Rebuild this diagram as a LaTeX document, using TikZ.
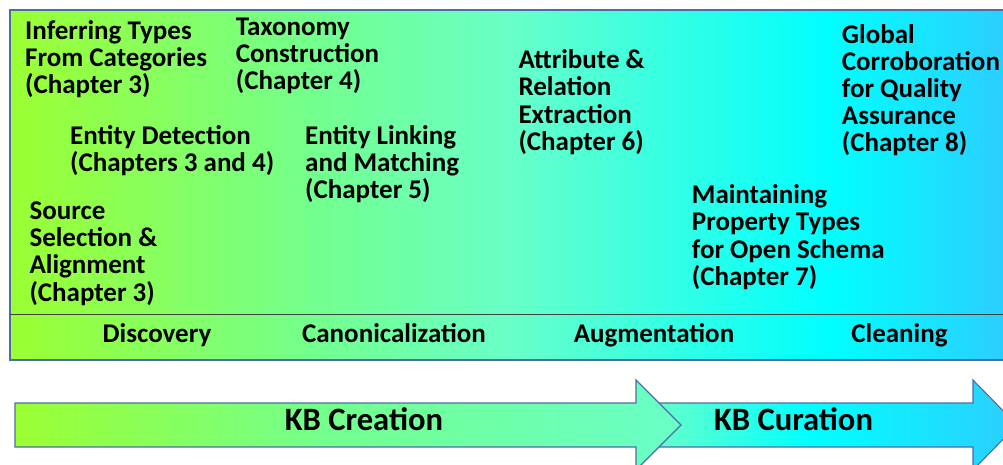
\documentclass[tikz,border=0pt]{standalone}
\usepackage{fontspec}
\setmainfont{Carlito}
\usetikzlibrary{positioning}

\definecolor{kbLime}{RGB}{155,255,50}
\definecolor{kbMint}{RGB}{115,255,140}
\definecolor{kbAqua}{RGB}{105,255,200}
\definecolor{kbCyan}{RGB}{0,255,255}
\definecolor{kbSky}{RGB}{45,205,255}
\definecolor{kbEdge}{RGB}{75,110,165}

\pgfdeclarehorizontalshading{panelshade}{100bp}{color(0bp)=(kbLime); color(25bp)=(kbLime);
  color(40bp)=(kbMint); color(50bp)=(kbAqua); color(66bp)=(kbCyan); color(75bp)=(kbSky); color(100bp)=(kbSky)}
\pgfdeclarehorizontalshading{creationshade}{100bp}{color(0bp)=(kbLime); color(25bp)=(kbLime);
  color(48bp)=(kbMint); color(75bp)=(kbAqua); color(100bp)=(kbAqua)}
\pgfdeclarehorizontalshading{curationshade}{100bp}{color(0bp)=(kbAqua); color(25bp)=(kbAqua);
  color(47bp)=(kbCyan); color(75bp)=(kbSky); color(100bp)=(kbSky)}

\begin{document}
\begin{tikzpicture}[x=1pt, y=-1pt,
  topic/.style={anchor=north west, inner sep=0, align=left,
    font=\fontsize{27}{27.2}\selectfont\bfseries, execute at begin node=\rule{0pt}{21pt}},
  stage/.style={anchor=base, inner sep=0, font=\fontsize{27}{29}\selectfont\bfseries},
  phase/.style={anchor=base, inner sep=0, font=\fontsize{32.6}{35}\selectfont\bfseries}]
  \useasboundingbox (0,0) rectangle (1003,464);

  % Panel with the tasks
  \draw[kbEdge, line width=1.1pt, shading=panelshade] (10,10) rectangle (1008,360);
  \draw[black!75, line width=0.9pt] (10,314) coordinate (divL) -- (1008,314) coordinate (divR);

  % Task labels
  \node[topic] (infer) at (25,20) {Inferring Types\\From Categories\\(Chapter 3)};
  \node[topic] (taxo) at (235.7,17.5) {Taxonomy\\Construction\\(Chapter 4)};
  \node[topic] (detect) at (70,125) {Entity Detection\\(Chapters 3 and 4)};
  \node[topic] (link) at (305,125) {Entity Linking\\and Matching\\(Chapter 5)};
  \node[topic] (source) at (29.3,201.5) {Source\\Selection \&\\Alignment\\(Chapter 3)};
  \node[topic] (attr) at (518.3,49.5) {Attribute \&\\Relation\\Extraction\\(Chapter 6)};
  \node[topic] (global) at (841.7,24) {Global\\Corroboration\\for Quality\\Assurance\\(Chapter 8)};
  \node[topic] (maintain) at (691.7,184.5) {Maintaining\\Property Types\\for Open Schema\\(Chapter 7)};

  % Stages
  \node[stage] (discovery) at (157,342) {Discovery};
  \node[stage] (canon) at (394,342) {Canonicalization};
  \node[stage] (augment) at (654,342) {Augmentation};
  \node[stage] (cleaning) at (899.5,342) {Cleaning};

  % Phase arrows
  \draw[kbEdge, line width=1.1pt, shading=curationshade]
    (650,403) -- (973,403) -- (973,380) -- (1017,425) -- (973,470) -- (973,447) -- (650,447) -- cycle;
  \draw[kbEdge, line width=1.1pt, shading=creationshade]
    (15,403) -- (636,403) -- (636,380) -- (681,425) -- (636,470) -- (636,447) -- (15,447) -- cycle;
  \node[phase] (creation) at (364,430) {KB Creation};
  \node[phase] (curation) at (793.5,430) {KB Curation};
\end{tikzpicture}
\end{document}
